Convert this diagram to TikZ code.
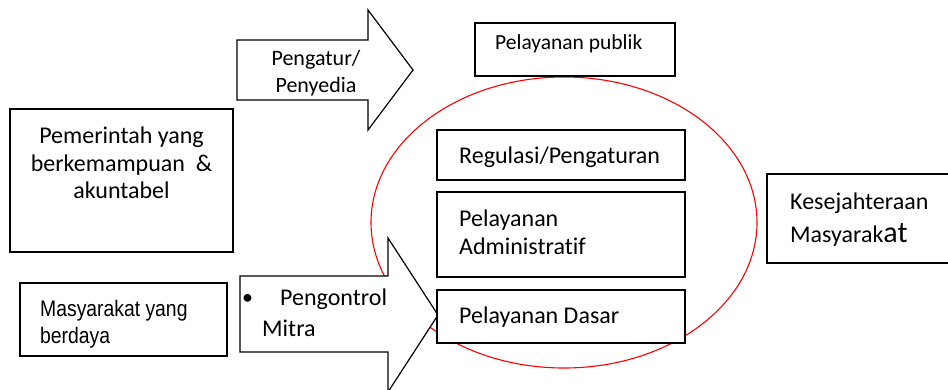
\documentclass[tikz,border=0pt]{standalone}
\usepackage{fontspec}
\setmainfont{Carlito}[Ligatures={NoCommon}]
\newfontfamily\arialf{Liberation Sans}
\begin{document}
\begin{tikzpicture}[x=1pt,y=-1pt,
  box/.style={draw=black,line width=1.2pt,fill=white},
  txt/.style={inner sep=0pt,anchor=west,align=left},
  ctxt/.style={inner sep=0pt,align=center}]
\useasboundingbox[fill=white] (0,0) rectangle (948,389);
\begin{scope}
\clip (0,0) rectangle (948,389);
% ellipse
\draw[red,line width=1.1pt] (564,222.5) ellipse [x radius=193,y radius=145.5];
% top arrow
\draw[box] (237,40) -- (368,40) -- (368,10) -- (413,70) -- (368,130) -- (368,100) -- (237,100) -- cycle;
\node[ctxt,font=\fontsize{22}{27}\selectfont] (regul) at (316,73) {Pengatur/\\Penyedia};
% bottom arrow
\draw[box] (240,276) -- (388,276) -- (388,238) -- (438,315) -- (388,392) -- (388,352) -- (240,352) -- cycle;
\node[txt,font=\fontsize{22}{22}\selectfont] (bul) at (242,299) {\textbullet};
\node[txt,font=\fontsize{24}{24}\selectfont] (kontrol) at (280,299) {Pengontrol};
\node[txt,font=\fontsize{24}{24}\selectfont] (mitra) at (262,328) {Mitra};
% left boxes
\draw[box] (10,109) rectangle (233,252);
\node[ctxt,font=\fontsize{24}{27.5}\selectfont] (pem) at (121.5,163) {Pemerintah yang\\berkemampuan\ \ \&\\akuntabel};
\draw[box] (20,283) rectangle (227,356);
\node[txt,font=\arialf\fontsize{22.5}{27}\selectfont] (mas) at (40,325) {\scalebox{0.86}[1]{\begin{tabular}{@{}l@{}}Masyarakat yang\\[0pt]berdaya\end{tabular}}};
% top box
\draw[box] (475,23) rectangle (675,76);
\node[txt,font=\fontsize{21.5}{21.5}\selectfont] (pub) at (495,44) {Pelayanan publik};
% inner boxes
\draw[box] (437,130) rectangle (685,180);
\node[txt,font=\fontsize{24}{24}\selectfont] (reg) at (459,157) {Regulasi/Pengaturan};
\draw[box] (437,192) rectangle (685,277);
\node[txt,font=\fontsize{24}{28}\selectfont] (adm) at (459,232) {Pelayanan\\Administratif};
\draw[box] (437,290) rectangle (685,343);
\node[txt,font=\fontsize{24}{24}\selectfont] (dasar) at (459,317) {Pelayanan Dasar};
% right box
\draw[box] (767,174) rectangle (960,263);
\node[txt,font=\fontsize{24}{33}\selectfont] (kes) at (790,220) {Kesejahteraan\\Masyarak{\fontsize{30}{33}\selectfont at}};
\end{scope}
\end{tikzpicture}
\end{document}
